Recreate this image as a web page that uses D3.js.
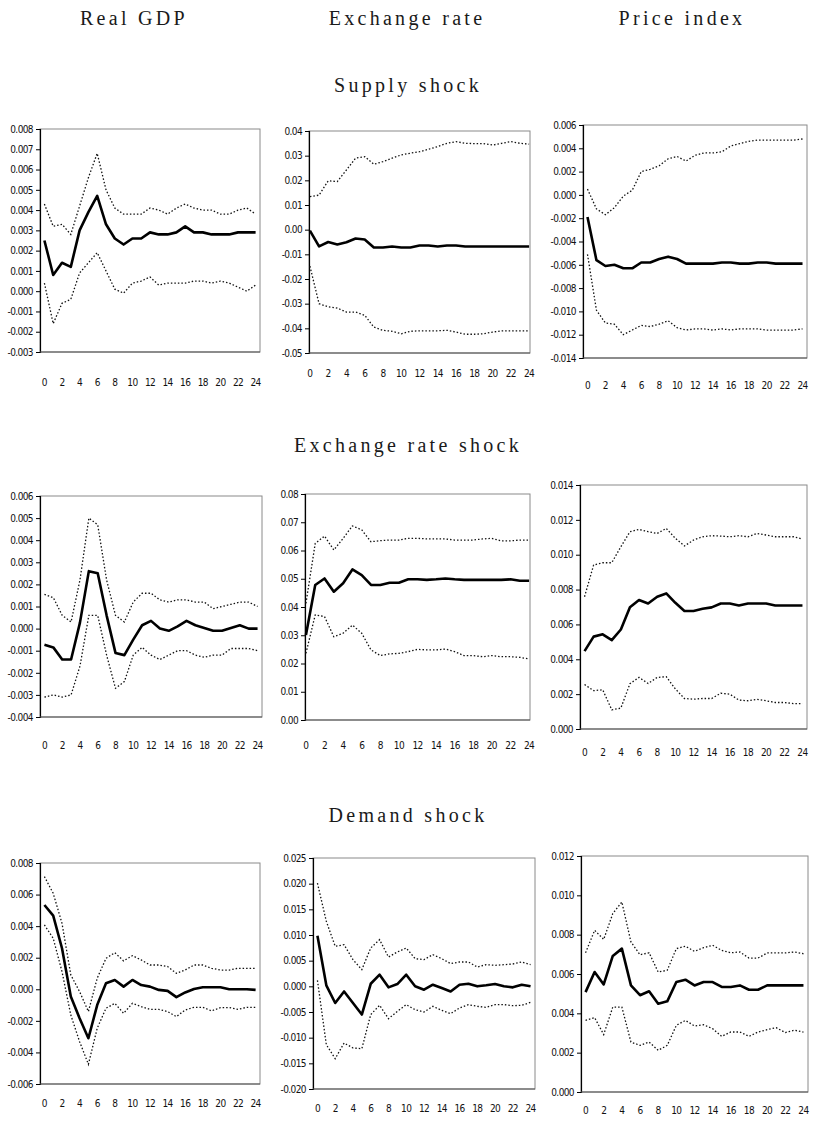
<!DOCTYPE html>
<html>
<head>
<meta charset="utf-8">
<script src="https://cdn.jsdelivr.net/npm/d3@7"></script>
<style>
  body { margin: 0; background: #fff; }
  svg { display: block; }
  .tick-label { font-family: "Liberation Sans Narrow", "DejaVu Sans Condensed", "Liberation Sans", sans-serif; font-size: 10px; fill: #111; letter-spacing: -0.6px; }
  .title { font-family: "Liberation Serif", "DejaVu Serif", serif; font-size: 20px; fill: #1a1a1a; letter-spacing: 3.3px; }
</style>
</head>
<body>
<svg id="chart" width="813" height="1121"></svg>
<script>
// Horizon (periods after the shock)
const periods = [0,1,2,3,4,5,6,7,8,9,10,11,12,13,14,15,16,17,18,19,20,21,22,23,24];
const xTickLabels = [0,2,4,6,8,10,12,14,16,18,20,22,24];

const columnTitles = ["Real GDP", "Exchange rate", "Price index"];
const shockTitles = ["Supply shock", "Exchange rate shock", "Demand shock"];

// ---- Supply shock ----
const gdpSupplyMid = [0.0025,0.0008,0.0014,0.0012,0.0030,0.0039,0.0047,0.0033,0.0026,0.0023,0.0026,0.0026,0.0029,0.0028,0.0028,0.0029,0.0032,0.0029,0.0029,0.0028,0.0028,0.0028,0.0029,0.0029,0.0029];
const gdpSupplyUp  = [0.0043,0.0032,0.0033,0.0028,0.0042,0.0056,0.0068,0.0050,0.0041,0.0038,0.0038,0.0038,0.0041,0.0040,0.0038,0.0041,0.0043,0.0041,0.0040,0.0040,0.0038,0.0038,0.0040,0.0041,0.0038];
const gdpSupplyLo  = [0.0004,-0.0016,-0.0006,-0.0004,0.0009,0.0014,0.0019,0.0010,0.0001,-0.0001,0.0004,0.0005,0.0007,0.0003,0.0004,0.0004,0.0004,0.0005,0.0005,0.0004,0.0005,0.0004,0.0002,0.0000,0.0003];
const gdpSupplyTicks = [-0.003,-0.002,-0.001,0,0.001,0.002,0.003,0.004,0.005,0.006,0.007,0.008];

const fxSupplyMid = [-0.0004,-0.0068,-0.0050,-0.0060,-0.0051,-0.0036,-0.0040,-0.0072,-0.0072,-0.0068,-0.0072,-0.0072,-0.0064,-0.0064,-0.0068,-0.0064,-0.0064,-0.0068,-0.0068,-0.0068,-0.0068,-0.0068,-0.0068,-0.0068,-0.0068];
const fxSupplyUp  = [0.0134,0.0140,0.0198,0.0195,0.0242,0.0290,0.0296,0.0265,0.0276,0.0290,0.0303,0.0310,0.0316,0.0326,0.0337,0.0350,0.0357,0.0350,0.0349,0.0349,0.0343,0.0350,0.0357,0.0350,0.0347];
const fxSupplyLo  = [-0.0148,-0.0300,-0.0313,-0.0318,-0.0334,-0.0334,-0.0347,-0.0395,-0.0408,-0.0412,-0.0422,-0.0412,-0.0410,-0.0410,-0.0410,-0.0408,-0.0415,-0.0424,-0.0424,-0.0422,-0.0415,-0.0410,-0.0410,-0.0410,-0.0410];
const fxSupplyTicks = [-0.05,-0.04,-0.03,-0.02,-0.01,0,0.01,0.02,0.03,0.04];

const priceSupplyMid = [-0.0019,-0.0056,-0.0061,-0.0060,-0.0063,-0.0063,-0.0058,-0.0058,-0.0055,-0.0053,-0.0055,-0.0059,-0.0059,-0.0059,-0.0059,-0.0058,-0.0058,-0.0059,-0.0059,-0.0058,-0.0058,-0.0059,-0.0059,-0.0059,-0.0059];
const priceSupplyUp  = [0.0005,-0.0012,-0.0017,-0.0011,-0.0001,0.0004,0.0020,0.0022,0.0025,0.0031,0.0033,0.0029,0.0034,0.0036,0.0036,0.0037,0.0042,0.0044,0.0046,0.0047,0.0047,0.0047,0.0047,0.0047,0.0048];
const priceSupplyLo  = [-0.0051,-0.0099,-0.0110,-0.0111,-0.0120,-0.0116,-0.0112,-0.0113,-0.0111,-0.0108,-0.0114,-0.0116,-0.0115,-0.0115,-0.0116,-0.0115,-0.0116,-0.0115,-0.0115,-0.0115,-0.0116,-0.0116,-0.0116,-0.0116,-0.0115];
const priceSupplyTicks = [-0.014,-0.012,-0.010,-0.008,-0.006,-0.004,-0.002,0,0.002,0.004,0.006];

// ---- Exchange rate shock ----
const gdpFxMid = [-0.00073,-0.00085,-0.0014,-0.0014,0.00027,0.0026,0.0025,0.0006,-0.0011,-0.0012,-0.0005,0.00015,0.00035,0,-0.0001,0.0001,0.00035,0.00015,0.00003,-0.0001,-0.0001,0.00003,0.00015,0,0];
const gdpFxUp  = [0.00155,0.0014,0.0006,0.0003,0.0022,0.0050,0.0047,0.0022,0.0006,0.0003,0.0012,0.0016,0.0016,0.0013,0.0012,0.0013,0.0013,0.0012,0.0012,0.0009,0.0010,0.0011,0.0012,0.0012,0.0010];
const gdpFxLo  = [-0.0031,-0.0030,-0.0031,-0.0030,-0.0017,0.0006,0.0006,-0.0012,-0.0027,-0.0024,-0.0012,-0.00085,-0.0012,-0.0014,-0.0012,-0.0010,-0.0010,-0.0012,-0.0013,-0.0012,-0.0012,-0.0009,-0.0009,-0.0009,-0.0010];
const gdpFxTicks = [-0.004,-0.003,-0.002,-0.001,0,0.001,0.002,0.003,0.004,0.005,0.006];

const fxFxMid = [0.0301,0.0478,0.0501,0.0454,0.0484,0.0533,0.0513,0.0478,0.0478,0.0486,0.0486,0.0498,0.0498,0.0496,0.0498,0.0501,0.0498,0.0496,0.0496,0.0496,0.0496,0.0496,0.0498,0.0493,0.0493];
const fxFxUp  = [0.0413,0.0625,0.0651,0.0602,0.0643,0.0687,0.0673,0.0631,0.0635,0.0637,0.0637,0.0643,0.0643,0.0641,0.0641,0.0641,0.0637,0.0637,0.0637,0.0641,0.0643,0.0634,0.0634,0.0637,0.0637];
const fxFxLo  = [0.0236,0.0372,0.0366,0.0295,0.0307,0.0336,0.0307,0.0248,0.0228,0.0234,0.0236,0.0242,0.0250,0.0248,0.0248,0.0251,0.0242,0.0228,0.0228,0.0224,0.0228,0.0224,0.0224,0.0222,0.0216];
const fxFxTicks = [0,0.01,0.02,0.03,0.04,0.05,0.06,0.07,0.08];

const priceFxMid = [0.00447,0.0053,0.00543,0.0051,0.00571,0.00698,0.0074,0.0072,0.00759,0.00778,0.00724,0.00677,0.00677,0.0069,0.00698,0.0072,0.0072,0.00709,0.0072,0.0072,0.0072,0.00709,0.00709,0.00709,0.00709];
const priceFxUp  = [0.00759,0.00941,0.00954,0.00954,0.01046,0.01132,0.01145,0.01132,0.01122,0.01151,0.01094,0.0105,0.01084,0.01103,0.01109,0.01107,0.01103,0.01109,0.01103,0.01122,0.01113,0.01103,0.01103,0.01103,0.0109];
const priceFxLo  = [0.00255,0.00220,0.00225,0.00110,0.00120,0.00260,0.00296,0.00261,0.00296,0.00300,0.00230,0.00175,0.00171,0.00175,0.00175,0.00205,0.00200,0.00166,0.00162,0.00170,0.00162,0.00152,0.00152,0.00146,0.00146];
const priceFxTicks = [0,0.002,0.004,0.006,0.008,0.010,0.012,0.014];

// ---- Demand shock ----
const gdpDemandMid = [0.00534,0.00467,0.0026,-0.00046,-0.00184,-0.0031,-0.0010,0.00038,0.00059,0.00017,0.00059,0.00027,0.00017,-0.00004,-0.0001,-0.0005,-0.0002,0.00002,0.00013,0.00013,0.00013,0,0,0,-0.00004];
const gdpDemandUp  = [0.00714,0.00608,0.00418,0.00091,-0.00015,-0.00141,0.0007,0.00196,0.00232,0.0018,0.00213,0.00186,0.00154,0.00154,0.00144,0.00101,0.00122,0.00154,0.00154,0.00133,0.00122,0.00122,0.00133,0.00133,0.00133];
const gdpDemandLo  = [0.00408,0.00323,0.00112,-0.00163,-0.00332,-0.00475,-0.00247,-0.0012,-0.00089,-0.00152,-0.00089,-0.0011,-0.00127,-0.00127,-0.00141,-0.00173,-0.00131,-0.00114,-0.00114,-0.00137,-0.00116,-0.00116,-0.00127,-0.00114,-0.00114];
const gdpDemandTicks = [-0.006,-0.004,-0.002,0,0.002,0.004,0.006,0.008];

const fxDemandMid = [0.00987,0.0002,-0.00325,-0.0010,-0.00325,-0.0055,0.0005,0.00227,-0.0002,0.00045,0.00227,0,-0.00065,0.00032,-0.00032,-0.0010,0.00032,0.0005,0,0.0002,0.00045,0,-0.0002,0.00032,0];
const fxDemandUp  = [0.0201,0.01266,0.00779,0.00812,0.0052,0.00325,0.00747,0.00909,0.00571,0.00669,0.00747,0.00539,0.0052,0.00617,0.00539,0.00442,0.00474,0.00474,0.00377,0.00422,0.00409,0.00422,0.00435,0.00474,0.00422];
const fxDemandLo  = [0.00117,-0.01136,-0.01409,-0.01104,-0.01201,-0.01214,-0.0055,-0.0037,-0.0063,-0.00487,-0.00357,-0.00455,-0.0050,-0.0039,-0.00468,-0.00532,-0.00422,-0.00357,-0.0039,-0.00409,-0.00357,-0.00357,-0.00377,-0.0037,-0.00312];
const fxDemandTicks = [-0.020,-0.015,-0.010,-0.005,0,0.005,0.010,0.015,0.020,0.025];

const priceDemandMid = [0.00508,0.0061,0.00547,0.00692,0.00729,0.00542,0.00492,0.00512,0.00449,0.00461,0.00559,0.00571,0.00542,0.00559,0.00559,0.00534,0.00534,0.00542,0.0052,0.0052,0.00542,0.00542,0.00542,0.00542,0.00542];
const priceDemandUp  = [0.00708,0.00822,0.00776,0.00907,0.00966,0.00763,0.00698,0.00708,0.0061,0.00619,0.00729,0.00741,0.00715,0.00734,0.00746,0.0072,0.00708,0.00712,0.00681,0.00681,0.00707,0.00707,0.00707,0.00712,0.00703];
const priceDemandLo  = [0.00364,0.00378,0.00292,0.00432,0.00432,0.00254,0.00237,0.00254,0.00212,0.00237,0.00339,0.00364,0.00336,0.00342,0.00322,0.00283,0.00305,0.00305,0.00283,0.00305,0.00317,0.00327,0.00302,0.00314,0.00305];
const priceDemandTicks = [0,0.002,0.004,0.006,0.008,0.010,0.012];

// Panel table: series + tick sets, plus each plot box on the page
const panels = [
  { mid: gdpSupplyMid,   up: gdpSupplyUp,   lo: gdpSupplyLo,   ticks: gdpSupplyTicks,   dec: 3, box: [40, 129, 260, 352],  pad: 0.5, labelY: 382 },
  { mid: fxSupplyMid,    up: fxSupplyUp,    lo: fxSupplyLo,    ticks: fxSupplyTicks,    dec: 2, box: [309, 131, 530, 353], pad: 0.1, labelY: 373 },
  { mid: priceSupplyMid, up: priceSupplyUp, lo: priceSupplyLo, ticks: priceSupplyTicks, dec: 3, box: [583, 125, 807, 358], pad: 0.5, labelY: 385 },
  { mid: gdpFxMid,       up: gdpFxUp,       lo: gdpFxLo,       ticks: gdpFxTicks,       dec: 3, box: [40, 496, 262, 717],  pad: 0.5, labelY: 745 },
  { mid: fxFxMid,        up: fxFxUp,        lo: fxFxLo,        ticks: fxFxTicks,        dec: 2, box: [305, 494, 530, 720], pad: 0.1, labelY: 745 },
  { mid: priceFxMid,     up: priceFxUp,     lo: priceFxLo,     ticks: priceFxTicks,     dec: 3, box: [580, 485, 807, 729], pad: 0.5, labelY: 752 },
  { mid: gdpDemandMid,   up: gdpDemandUp,   lo: gdpDemandLo,   ticks: gdpDemandTicks,   dec: 3, box: [40, 863, 260, 1084], pad: 0.5, labelY: 1103 },
  { mid: fxDemandMid,    up: fxDemandUp,    lo: fxDemandLo,    ticks: fxDemandTicks,    dec: 3, box: [313, 858, 535, 1089], pad: 0.5, labelY: 1108 },
  { mid: priceDemandMid, up: priceDemandUp, lo: priceDemandLo, ticks: priceDemandTicks, dec: 3, box: [581, 856, 808, 1092], pad: 0.5, labelY: 1110 }
];

const svg = d3.select("#chart");

// Column and row headings
const colCenters = [134, 407, 682];
svg.selectAll("text.col-title").data(columnTitles).join("text")
  .attr("class", "title col-title")
  .attr("x", (d, i) => colCenters[i]).attr("y", 25)
  .attr("text-anchor", "middle").text(d => d);

const shockY = [92, 452, 822];
svg.selectAll("text.row-title").data(shockTitles).join("text")
  .attr("class", "title row-title")
  .attr("x", 408).attr("y", (d, i) => shockY[i])
  .attr("text-anchor", "middle").text(d => d);

panels.forEach(p => {
  const [x0, y0, x1, y1] = p.box;
  const x = d3.scalePoint().domain(periods).range([x0, x1]).padding(p.pad);
  const y = d3.scaleLinear().domain(d3.extent(p.ticks)).range([y1, y0]);
  const g = svg.append("g");

  // plot frame
  g.append("rect").attr("x", x0).attr("y", y0).attr("width", x1 - x0).attr("height", y1 - y0)
    .attr("fill", "none").attr("stroke", "#8a8a8a").attr("stroke-width", 1);

  // value axis
  const fmt = d3.format(`.${p.dec}f`);
  const yAxis = d3.axisLeft(y).tickValues(p.ticks).tickSize(4).tickPadding(3)
    .tickFormat(v => fmt(v).replace("−", "-"));
  const ya = g.append("g").attr("transform", `translate(${x0},0)`).call(yAxis);
  ya.select(".domain").attr("stroke", "#000").attr("stroke-width", 1.2);
  ya.selectAll(".tick line").attr("stroke", "#000");
  ya.selectAll(".tick text").attr("class", "tick-label").attr("fill", null);

  // bottom axis line
  g.append("line").attr("x1", x0).attr("x2", x1).attr("y1", y1).attr("y2", y1)
    .attr("stroke", "#555").attr("stroke-width", 1.2);

  // period labels
  g.selectAll("text.xl").data(xTickLabels).join("text")
    .attr("class", "tick-label xl")
    .attr("x", d => x(d)).attr("y", p.labelY)
    .attr("dy", "0.35em").attr("text-anchor", "middle").text(d => d);

  const line = d3.line().x((d, i) => x(periods[i])).y(d => y(d));

  [p.up, p.lo].forEach(s => {
    g.append("path").datum(s).attr("d", line)
      .attr("fill", "none").attr("stroke", "#111").attr("stroke-width", 1.3)
      .attr("stroke-dasharray", "1.5,2");
  });
  g.append("path").datum(p.mid).attr("d", line)
    .attr("fill", "none").attr("stroke", "#000").attr("stroke-width", 2.6)
    .attr("stroke-linejoin", "round");
});
</script>
</body>
</html>
